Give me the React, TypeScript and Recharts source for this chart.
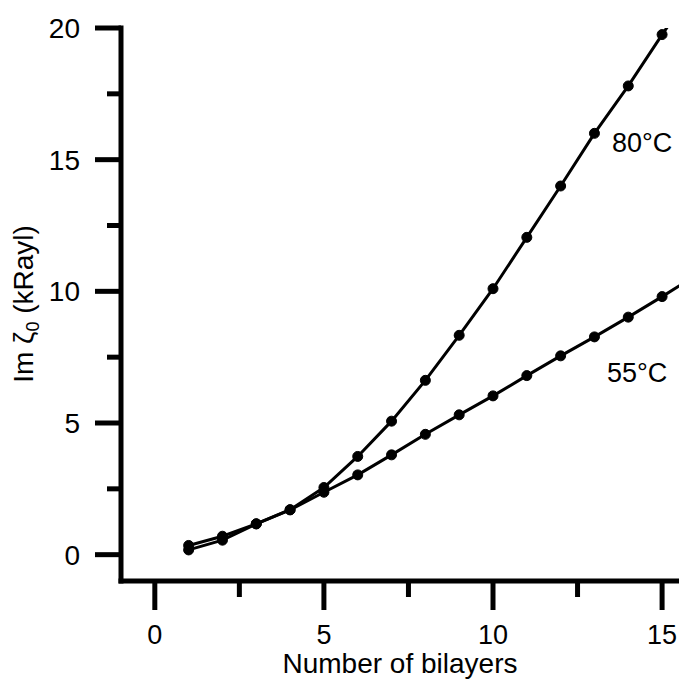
import { LineChart, Line, XAxis, YAxis } from 'recharts'

const bilayers = [1, 2, 3, 4, 5, 6, 7, 8, 9, 10, 11, 12, 13, 14, 15, 16]
const im80 = [0.35, 0.7, 1.17, 1.71, 2.55, 3.73, 5.07, 6.62, 8.33, 10.1, 12.05, 14.0, 16.0, 17.8, 19.75, 21.6]
const im55 = [0.18, 0.55, 1.17, 1.7, 2.37, 3.03, 3.79, 4.57, 5.31, 6.03, 6.8, 7.55, 8.27, 9.02, 9.8, 10.6]

const xTicks = [0, 2.5, 5, 7.5, 10, 12.5, 15]
const yTicks = [0, 2.5, 5, 7.5, 10, 12.5, 15, 17.5, 20]

const data = bilayers.map((n, i) => ({ n, t80: im80[i], t55: im55[i] }))

const FONT = '"Liberation Sans", Arial, sans-serif'

function XTick(props: any) {
  const { x, y, payload } = props
  const major = payload.value % 5 === 0
  return (
    <g>
      <line x1={x} x2={x} y1={y} y2={y + (major ? 29 : 16)} stroke="#000" strokeWidth={5} />
      {major && (
        <text x={x} y={y + 44} dy="0.71em" textAnchor="middle" fontSize={27} fontFamily={FONT} fill="#000">
          {payload.value}
        </text>
      )}
    </g>
  )
}

function YTick(props: any) {
  const { x, y, payload } = props
  const major = payload.value % 5 === 0
  return (
    <g>
      <line x1={x} x2={x - (major ? 26 : 14)} y1={y} y2={y} stroke="#000" strokeWidth={5} />
      {major && (
        <text x={x - 41} y={y} dy="0.36em" textAnchor="end" fontSize={28} fontFamily={FONT} fill="#000">
          {payload.value}
        </text>
      )}
    </g>
  )
}

export default function App() {
  return (
    <div style={{ position: 'absolute', left: 0, top: 0, width: 679, height: 684, background: '#fff' }}>
      <LineChart width={679} height={684} data={data} margin={{ top: 28, right: 0, bottom: 0, left: 0 }}>
        <XAxis
          type="number"
          dataKey="n"
          domain={[-1, 15.5]}
          allowDataOverflow
          ticks={xTicks}
          interval={0}
          height={103}
          tickSize={0}
          tickMargin={0}
          tickLine={false}
          tick={<XTick />}
          axisLine={{ stroke: '#000', strokeWidth: 5, strokeLinecap: 'square' }}
          label={{ value: 'Number of bilayers', position: 'insideBottom', offset: 11, fontSize: 28, fontFamily: FONT, fill: '#000' }}
        />
        <YAxis
          type="number"
          domain={[-1, 20]}
          allowDataOverflow
          ticks={yTicks}
          interval={0}
          width={121}
          tickSize={0}
          tickMargin={0}
          tickLine={false}
          tick={<YTick />}
          axisLine={{ stroke: '#000', strokeWidth: 5, strokeLinecap: 'square' }}
        />
        <Line
          dataKey="t55"
          stroke="#000"
          strokeWidth={3}
          dot={{ r: 5, fill: '#000', stroke: '#000', strokeWidth: 1 }}
          isAnimationActive={false}
        />
        <Line
          dataKey="t80"
          stroke="#000"
          strokeWidth={3}
          dot={{ r: 5, fill: '#000', stroke: '#000', strokeWidth: 1 }}
          isAnimationActive={false}
        />
        <text transform="translate(33,304) rotate(-90)" textAnchor="middle" fontSize={28} fontFamily={FONT} fill="#000">
          Im ζ<tspan fontSize={18} dy={6}>0</tspan>
          <tspan dy={-6}> (kRayl)</tspan>
        </text>
        <text x={612} y={152} fontSize={27} fontFamily={FONT} fill="#000">80°C</text>
        <text x={607} y={382} fontSize={27} fontFamily={FONT} fill="#000">55°C</text>
      </LineChart>
    </div>
  )
}
